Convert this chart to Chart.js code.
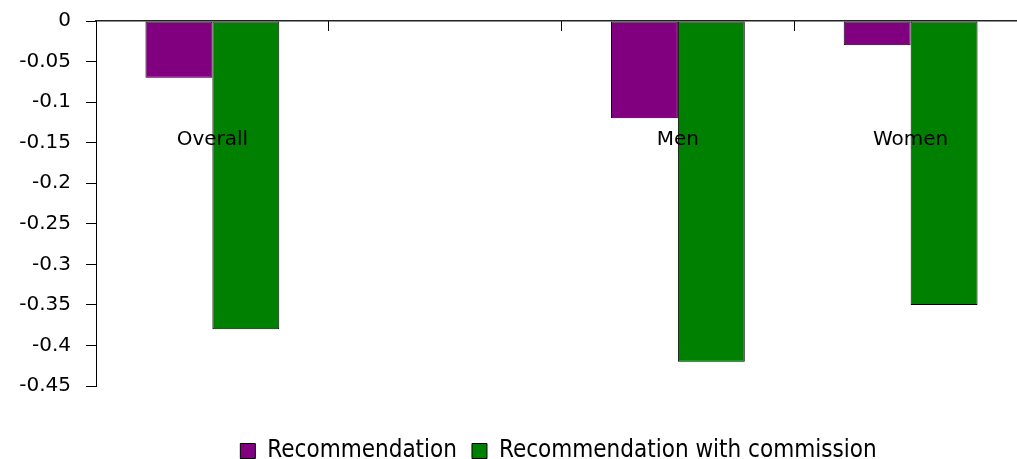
<!DOCTYPE html>
<html>
<head>
<meta charset="utf-8">
<script src="https://cdn.jsdelivr.net/npm/chart.js@4"></script>
<style>
html,body{margin:0;padding:0;background:#fff;overflow:hidden;}
#wrap{position:relative;width:1027px;height:480px;}
</style>
</head>
<body>
<div id="wrap"><canvas id="c"></canvas></div>
<script>
const categories = ['Overall', '', 'Men', 'Women'];
const recommendation = [-0.07, null, -0.12, -0.03];
const recommendationWithCommission = [-0.38, null, -0.42, -0.35];
const seriesNames = ['Recommendation', 'Recommendation with commission'];

const FONT = "'DejaVu Sans', sans-serif";

// move the library-drawn legend sideways to where the reference places it
const legendShift = {
  id: 'legendShift',
  afterLayout(chart) {
    const lg = chart.legend;
    if (lg) { lg.left += 45; lg.right += 45; }
  }
};

new Chart(document.getElementById('c'), {
  type: 'bar',
  data: {
    labels: categories,
    datasets: [
      { label: seriesNames[0], data: recommendation, backgroundColor: '#800080', borderColor: '#000', borderWidth: 1, borderSkipped: false },
      { label: seriesNames[1], data: recommendationWithCommission, backgroundColor: '#008000', borderColor: '#000', borderWidth: 1, borderSkipped: false }
    ]
  },
  plugins: [legendShift],
  options: {
    responsive: true,
    maintainAspectRatio: false,
    animation: false,
    layout: { padding: { left: 0, right: 0, top: 0, bottom: 7 } },
    datasets: { bar: { categoryPercentage: 0.575, barPercentage: 1 } },
    plugins: {
      tooltip: { enabled: false },
      legend: {
        position: 'bottom',
        labels: {
          boxWidth: 15, boxHeight: 15, padding: 15, color: '#000',
          font: { family: "'DejaVu Sans Condensed', 'Liberation Sans Narrow', sans-serif", size: 24 }
        }
      }
    },
    scales: {
      x: {
        position: 'top',
        grid: { drawOnChartArea: false, drawTicks: true, tickLength: -10, color: '#000', offset: true },
        border: { display: true, color: '#222', width: 1.5 },
        ticks: { z: 1, color: '#000', mirror: true, padding: 107, font: { family: FONT, size: 20 }, maxRotation: 0, autoSkip: false },
        afterFit(s) { s.height = 21; s.paddingLeft = 0; s.paddingRight = 0; }
      },
      x2: {
        type: 'category',
        labels: categories,
        position: 'bottom',
        display: true,
        grid: { display: false },
        border: { display: false },
        ticks: { display: false },
        afterFit(s) { s.height = 38; s.paddingLeft = 0; s.paddingRight = 0; }
      },
      y: {
        min: -0.45,
        max: 0,
        ticks: {
          stepSize: 0.05, color: '#000', padding: 15, font: { family: FONT, size: 20 },
          callback: (v) => String(Number(v.toFixed(2)))
        },
        grid: { drawOnChartArea: false, drawTicks: true, tickLength: 10, color: '#000' },
        border: { display: true, color: '#000', width: 1 },
        afterFit(s) { s.width = 96; s.paddingTop = 0; s.paddingBottom = 0; }
      }
    }
  }
});
</script>
</body>
</html>
